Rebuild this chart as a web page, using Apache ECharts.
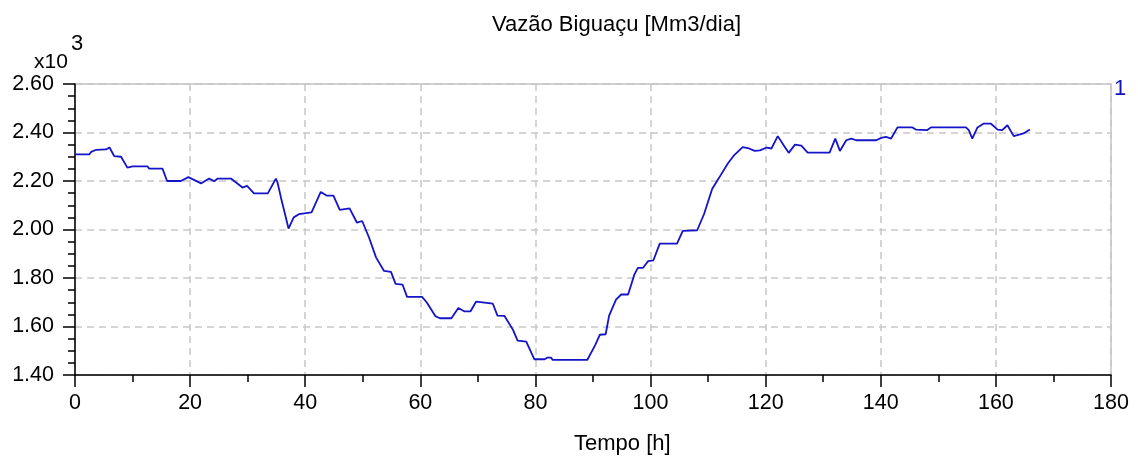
<!DOCTYPE html>
<html>
<head>
<meta charset="utf-8">
<script src="https://cdn.jsdelivr.net/npm/echarts@6/dist/echarts.min.js"></script>
<style>
  html, body { margin: 0; padding: 0; background: #ffffff; }
  #chart { width: 1138px; height: 462px; }
</style>
</head>
<body>
<div id="chart"></div>
<script>
// Flow at Biguaçu over time: hour marks and flow values (Mm3/dia)
const hours = [
  0, 2.5, 2.8, 3.6, 5.4, 6.0, 6.8, 8.0, 9.1, 10, 12.6, 12.9, 15.2, 16, 18.4, 19.7, 21.9, 23.3, 24.2, 24.8,
  27.1, 29.1, 29.9, 31.1, 33.5, 34.9, 35.2, 35.8, 37.1, 38.0, 38.9, 41.1, 42.7, 43.7, 44.9, 46.0, 47.7, 49.0,
  49.9, 51.1, 52.3, 53.7, 54.9, 55.7, 56.9, 57.7, 60.3, 61.1, 62.6, 63.4, 65.4, 66.6, 67.7, 68.7, 69.7, 72.6,
  73.4, 74.6, 76.1, 76.9, 78.4, 79.8, 81.6, 82.1, 82.7, 83.0, 89.0, 90.4, 91.2, 92.2, 92.8, 94.0, 94.9, 96.1,
  97.2, 97.8, 98.7, 99.6, 100.5, 100.8, 101.6, 104.6, 105.6, 108.1, 109.3, 110.7, 111.9, 113.4, 114.5, 116.0,
  116.9, 118.1, 119.0, 120.2, 121.0, 122.1, 123.1, 124.0, 125.1, 126.2, 127.3, 131.1, 132.1, 132.9, 134.0,
  134.9, 135.7, 139.2, 140.1, 140.9, 141.8, 142.9, 145.5, 146.1, 148.1, 148.7, 154.8, 155.3, 155.9, 156.8,
  157.9, 159.1, 160.3, 161.1, 162.0, 163.1, 164.8, 165.9
];
const flow = [
  2310, 2310, 2320, 2328, 2330, 2338, 2303, 2300, 2255, 2260, 2260, 2251, 2251, 2200, 2200, 2216, 2190, 2210, 2199, 2210,
  2210, 2173, 2180, 2149, 2149, 2210, 2193, 2130, 2004, 2050, 2063, 2071, 2155, 2140, 2140, 2081, 2087, 2028,
  2035, 1966, 1885, 1829, 1825, 1776, 1773, 1722, 1722, 1700, 1643, 1634, 1634, 1676, 1662, 1662, 1703, 1694,
  1645, 1644, 1586, 1542, 1538, 1465, 1465, 1472, 1472, 1462, 1462, 1524, 1566, 1568, 1645, 1711, 1732, 1732,
  1815, 1842, 1842, 1870, 1873, 1870, 1942, 1942, 1994, 1997, 2064, 2167, 2213, 2271, 2306, 2340,
  2336, 2324, 2326, 2338, 2334, 2385, 2348, 2316, 2350, 2346, 2317, 2317, 2375, 2324, 2368,
  2375, 2368, 2368, 2378, 2382, 2375, 2421, 2421, 2412, 2410, 2421, 2421, 2410, 2375, 2421,
  2437, 2437, 2412, 2410, 2430, 2385, 2396, 2412
];
const xTicks = [0, 20, 40, 60, 80, 100, 120, 140, 160, 180];
const yTicks = [1400, 1600, 1800, 2000, 2200, 2400, 2600];

const points = hours.map((h, i) => [h, flow[i]]);
const FONT = '"Liberation Sans", "DejaVu Sans", sans-serif';

const chart = echarts.init(document.getElementById('chart'), null, { renderer: 'canvas' });
chart.setOption({
  animation: false,
  backgroundColor: '#ffffff',
  textStyle: { fontFamily: FONT },
  grid: {
    left: 75, right: 27, top: 84, bottom: 87,
    show: true, borderColor: '#c4c4c4', borderWidth: 1.5, backgroundColor: 'transparent'
  },
  graphic: [
    { type: 'text', left: 492, top: 14,
      style: { text: 'Vazão Biguaçu [Mm3/dia]', font: '22px ' + FONT, fill: '#000' } },
    { type: 'text', left: 34, top: 52,
      style: { text: 'x10', font: '21px ' + FONT, fill: '#000' } },
    { type: 'text', left: 71, top: 33,
      style: { text: '3', font: '22px ' + FONT, fill: '#000' } },
    { type: 'text', left: 1114, top: 78,
      style: { text: '1', font: '22px ' + FONT, fill: '#1010c0' } },
    { type: 'text', left: 574, top: 433,
      style: { text: 'Tempo [h]', font: '22px ' + FONT, fill: '#000' } }
  ],
  xAxis: {
    type: 'value',
    min: xTicks[0], max: xTicks[xTicks.length - 1], interval: xTicks[1] - xTicks[0],
    axisLine: { show: true, onZero: false, lineStyle: { color: '#000', width: 1.5 } },
    axisTick: { show: true, inside: false, length: 12, lineStyle: { color: '#000', width: 1.5 } },
    minorTick: { show: true, splitNumber: 2, length: 7, lineStyle: { color: '#000', width: 1.5 } },
    axisLabel: { color: '#000', fontSize: 21.5, margin: 17, fontFamily: FONT },
    splitLine: { show: true, lineStyle: { color: '#c8c8c8', type: [7, 5], width: 1.5 } }
  },
  yAxis: {
    type: 'value',
    min: yTicks[0], max: yTicks[yTicks.length - 1], interval: yTicks[1] - yTicks[0],
    axisLine: { show: true, onZero: false, lineStyle: { color: '#000', width: 1.5 } },
    axisTick: { show: true, inside: false, length: 12, lineStyle: { color: '#000', width: 1.5 } },
    minorTick: { show: true, splitNumber: 4, length: 7, lineStyle: { color: '#000', width: 1.5 } },
    axisLabel: { color: '#000', fontSize: 21.5, margin: 21, fontFamily: FONT,
      formatter: v => (v / 1000).toFixed(2) },
    splitLine: { show: true, lineStyle: { color: '#c8c8c8', type: [7, 5], width: 1.5 } }
  },
  series: [{
    name: '1',
    type: 'line',
    data: points,
    showSymbol: false,
    lineStyle: { color: '#1414c8', width: 1.8 },
    z: 3
  }]
});
</script>
</body>
</html>
